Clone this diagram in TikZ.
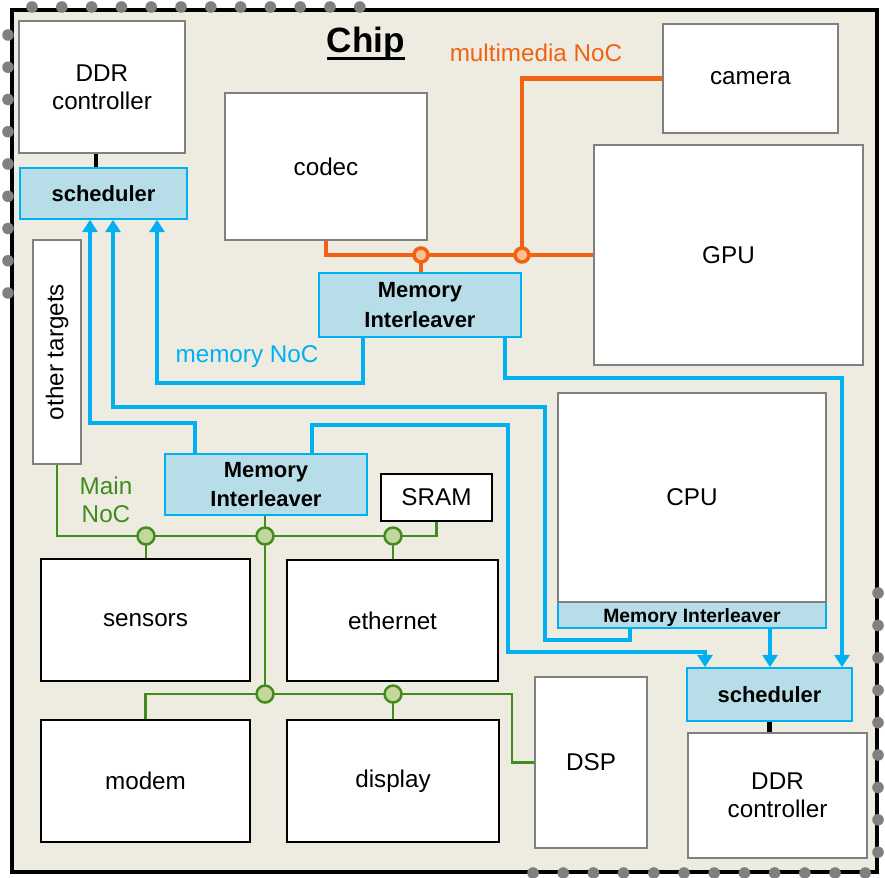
\documentclass[tikz,border=0pt]{standalone}
\usepackage{fontspec}
\setmainfont{Liberation Sans}
\usetikzlibrary{arrows.meta}
\definecolor{chipbeige}{RGB}{238,236,225}
\definecolor{dotgray}{RGB}{128,128,128}
\definecolor{boxgray}{RGB}{128,128,128}
\definecolor{ctlblue}{RGB}{183,222,232}
\definecolor{ctlcyan}{RGB}{0,176,240}
\definecolor{mmorange}{RGB}{242,98,20}
\definecolor{mmlight}{RGB}{250,192,144}
\definecolor{maingreen}{RGB}{64,140,28}
\definecolor{mainlight}{RGB}{195,214,155}
\newcommand\blkfont{\fontsize{13.8}{16}\selectfont}
\newcommand\ctlfont{\fontsize{12.5}{17}\selectfont\bfseries}
\newcommand\chipfont{\fontsize{20}{22}\selectfont\bfseries}
\tikzset{
  corners/.style n args={4}{at={({(#1+#3)/2},{(#2+#4)/2})},
            minimum width={(#3-#1)*0.02cm},minimum height={(#4-#2)*0.02cm}},
  chipframe/.style={draw=black,line width=2.3pt,fill=chipbeige,inner sep=0pt},
  chipdot/.style={fill=dotgray},
  blk/.style={draw=boxgray,line width=1.3pt,fill=white,inner sep=0pt,
            align=center,font=\blkfont},
  blkblack/.style={blk,draw=black,line width=1.4pt},
  memctl/.style={draw=ctlcyan,line width=0.9pt,fill=ctlblue,inner sep=0pt,
            align=center,font=\ctlfont},
  memnoc/.style={draw=ctlcyan,line width=2.8pt,-{Triangle[width=8.5pt,length=7pt]}},
  mmnoc/.style={draw=mmorange,line width=2.6pt},
  mainnoc/.style={draw=maingreen,line width=1.5pt},
  ddrlink/.style={draw=black,line width=2.4pt},
  mmjoint/.style={circle,draw=mmorange,line width=2pt,fill=mmlight,
            inner sep=0pt,minimum size=0.28cm},
  mainjoint/.style={circle,draw=maingreen,line width=1.4pt,fill=mainlight,
            inner sep=0pt,minimum size=0.34cm},
  noclabel/.style={font=\blkfont,inner sep=0pt,align=center},
}
\begin{document}
\begin{tikzpicture}[x=0.02cm,y=-0.02cm]
  \useasboundingbox (0,0) rectangle (885,878);
  % chip outline with pads
  \node[chipframe,corners={12}{10}{877}{872}] (chip frame) {};
  \foreach \i in {0,...,11} \fill[chipdot] ({32+29.8*\i},7) circle[radius=3.3pt];
  \foreach \i in {0,...,8} \fill[chipdot] (8,{35+32.25*\i}) circle[radius=3.3pt];
  \foreach \i in {0,...,8} \fill[chipdot] (878,{593+32.4*\i}) circle[radius=3.3pt];
  \foreach \i in {0,...,11} \fill[chipdot] ({533+30.2*\i},873) circle[radius=3.3pt];
  \node[font=\chipfont,inner sep=0pt,anchor=base] (chip) at (366,53) {Chip};
  \draw[line width=1.5pt] ([yshift=-3.3pt]chip.base west) -- ([yshift=-3.3pt]chip.base east);
  % memory side, top left
  \node[blk,corners={19}{21}{185}{153}] (ddrA) {DDR\\controller};
  \node[memctl,corners={20}{168}{187}{219}] (schedA) {scheduler};
  \node[blk,corners={33}{240}{81}{464}] (othert) {\rotatebox{90}{other targets}};
  % multimedia blocks
  \node[blk,corners={225}{93}{427}{240}] (codec) {codec};
  \node[blk,corners={663}{24}{838}{133}] (camera) {camera};
  \node[blk,corners={594}{145}{863}{365}] (gpu) {GPU};
  \node[memctl,corners={319}{273}{521}{337}] (miTop) {Memory\\Interleaver};
  % CPU with its interleaver
  \node[memctl,corners={558}{602}{826}{628},font=\fontsize{11}{12}\selectfont\bfseries,
        text depth=0pt] (miCpu) {Memory Interleaver};
  \node[blk,corners={558}{393}{826}{602}] (cpu) {CPU};
  % memory side, bottom right
  \node[memctl,corners={687}{668}{852}{721}] (schedB) {scheduler};
  \node[blk,corners={688}{733}{867}{858}] (ddrB) {DDR\\controller};
  \node[blk,corners={535}{677}{647}{848}] (dsp) {DSP};
  % main NoC blocks
  \node[memctl,corners={165}{454}{367}{515}] (miLeft) {Memory\\Interleaver};
  \node[blkblack,corners={381}{474}{492}{521}] (sram) {SRAM};
  \node[blkblack,corners={41}{559}{250}{681}] (sensors) {sensors};
  \node[blkblack,corners={287}{560}{498}{681}] (eth) {ethernet};
  \node[blkblack,corners={41}{720}{250}{842}] (modem) {modem};
  \node[blkblack,corners={287}{720}{499}{842}] (display) {display};
  % DDR links
  \draw[ddrlink] (96,0 |- ddrA.south) -- (96,0 |- schedA.north);
  \draw[ddrlink] (schedB.south) -- (schedB.south |- ddrB.north);
  % memory NoC
  \draw[memnoc] (363,0 |- miTop.south) |- (157,383) -- (157,0 |- schedA.south);
  \draw[memnoc] (505,0 |- miTop.south) |- (842,378) -- (842,0 |- schedB.north);
  \draw[memnoc] (195,0 |- miLeft.north) |- (90,423) -- (90,0 |- schedA.south);
  \draw[memnoc] (312,0 |- miLeft.north) |- (508,425) |- (705,652) -- (705,0 |- schedB.north);
  \draw[memnoc] (630,0 |- miCpu.south) |- (545,640) |- (113,407) -- (113,0 |- schedA.south);
  \draw[memnoc] (770,0 |- miCpu.south) -- (770,0 |- schedB.north);
  \node[noclabel,text=ctlcyan] (memlabel) at (247,357) {memory NoC};
  % multimedia NoC
  \coordinate (jm1) at (421,255);
  \coordinate (jm2) at (522,255);
  \draw[mmnoc] (codec.south) |- (gpu.west |- jm1);
  \draw[mmnoc] (jm2) |- (camera.west);
  \draw[mmnoc] (jm1) -- (jm1 |- miTop.north);
  \node[mmjoint] at (jm1) {};
  \node[mmjoint] at (jm2) {};
  \node[noclabel,text=mmorange] (mmlabel) at (536,53) {multimedia NoC};
  % main NoC
  \coordinate (jg1) at (146,536);
  \coordinate (jg2) at (265,536);
  \coordinate (jg3) at (393,536);
  \coordinate (jg4) at (265,694);
  \coordinate (jg5) at (393,694);
  \draw[mainnoc] (othert.south) |- (sram.south |- jg1) -- (sram.south);
  \draw[mainnoc] (jg1) -- (jg1 |- sensors.north);
  \draw[mainnoc] (jg2 |- miLeft.south) -- (jg4);
  \draw[mainnoc] (jg3) -- (jg3 |- eth.north);
  \draw[mainnoc] (modem.north) |- (512,694) |- (dsp.west);
  \draw[mainnoc] (jg5) -- (jg5 |- display.north);
  \foreach \j in {jg1,jg2,jg3,jg4,jg5} \node[mainjoint] at (\j) {};
  \node[noclabel,text=maingreen] (mainlabel) at (106,500) {Main\\NoC};
\end{tikzpicture}
\end{document}
